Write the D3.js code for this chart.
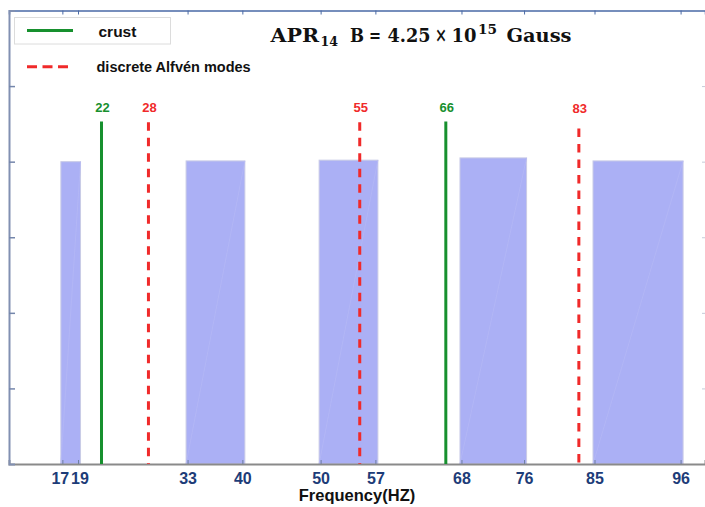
<!DOCTYPE html>
<html>
<head>
<meta charset="utf-8">
<script src="https://cdn.jsdelivr.net/npm/d3@7"></script>
<style>
  html, body { margin: 0; padding: 0; background: #fff; }
  svg { display: block; }
</style>
</head>
<body>
<svg id="chart" width="705" height="507"></svg>
<script>
// ---- data ----
const tickValues = [17, 19, 33, 40, 50, 57, 68, 76, 85, 96];
const bandLow = [17, 33, 50, 68, 85];
const bandHigh = [19, 40, 57, 76, 96];
const bandHeight = [4.0, 4.01, 4.02, 4.05, 4.01];
const crustFreq = [22, 66];
const crustHeight = [4.53, 4.53];
const alfvenFreq = [28, 55, 83];
const alfvenHeight = [4.52, 4.52, 4.44];
const yTicks = [1, 2, 3, 4, 5];

(function () {
const svg = d3.select("#chart");
const pLeft = 9, pRight = 705, pTop = 10.5, pBottom = 464;

const x = d3.scaleLinear().domain([10.18, 99.12]).range([pLeft, pRight]);
const y = d3.scaleLinear().domain([0, 6]).range([pBottom, pTop]);

// bands
const bands = bandLow.map((lo, i) => ({lo, hi: bandHigh[i], h: bandHeight[i]}));
svg.append("g").selectAll("rect").data(bands).join("rect")
  .attr("x", d => x(d.lo) - 1.5)
  .attr("width", d => x(d.hi) - x(d.lo) + 4)
  .attr("y", d => y(d.h))
  .attr("height", d => y(0) - y(d.h))
  .attr("fill", "#abb0f5")
  .attr("stroke", "#c9cbe6")
  .attr("stroke-width", 1);
// faint diagonal artifacts
svg.append("g").selectAll("line").data(bands).join("line")
  .attr("x1", d => x(d.lo) - 1.5).attr("y1", y(0))
  .attr("x2", d => x(d.hi) + 2.5).attr("y2", d => y(d.h))
  .attr("stroke", "#b4b8f5").attr("stroke-width", 0.8);

// axes
const gx = svg.append("g").attr("transform", `translate(0,${pBottom})`)
  .call(d3.axisBottom(x).tickValues(tickValues).tickSize(-4).tickPadding(8.5).tickFormat(d3.format("d")));
gx.select(".domain").attr("stroke", "#8a8a8a").attr("stroke-width", 2);
gx.selectAll(".tick line").attr("stroke", "#6f7f9f");
gx.selectAll("text").attr("fill", "#1d3c78").attr("font-family", "Liberation Sans, Arial, sans-serif")
  .attr("font-weight", "bold").attr("font-size", "16px")
  .attr("dx", d => d === 17 ? -2.6 : d === 19 ? 1.4 : 0);

const gt = svg.append("g").attr("transform", `translate(0,${pTop})`)
  .call(d3.axisTop(x).tickValues(tickValues).tickSize(-4).tickFormat(""));
gt.select(".domain").attr("stroke", "#4a6aa6").attr("stroke-width", 1.5);
gt.selectAll(".tick line").attr("stroke", "#4a6aa6");

const gy = svg.append("g").attr("transform", `translate(${pLeft},0)`)
  .call(d3.axisLeft(y).tickValues(yTicks).tickSize(-6).tickFormat(""));
gy.select(".domain").attr("stroke", "#8190b2").attr("stroke-width", 2);
gy.selectAll(".tick line").attr("stroke", "#7486ab").attr("stroke-width", 1.5);

const gr = svg.append("g").attr("transform", `translate(${pRight},0)`)
  .call(d3.axisRight(y).tickValues(yTicks).tickSize(-3).tickFormat(""));
gr.select(".domain").attr("stroke", "none");
gr.selectAll(".tick line").attr("stroke", "#c5cbd8");

// crust lines
const crust = crustFreq.map((f, i) => ({f, h: crustHeight[i]}));
svg.append("g").selectAll("line").data(crust).join("line")
  .attr("x1", d => x(d.f)).attr("x2", d => x(d.f))
  .attr("y1", y(0)).attr("y2", d => y(d.h))
  .attr("stroke", "#17902e").attr("stroke-width", 3);
svg.append("g").selectAll("text").data(crust).join("text")
  .attr("x", d => x(d.f) + 1).attr("y", 112)
  .attr("text-anchor", "middle")
  .attr("fill", "#17902e").attr("font-family", "Liberation Sans, Arial, sans-serif")
  .attr("font-weight", "bold").attr("font-size", "13px")
  .text(d => d.f);

// alfven lines
const alf = alfvenFreq.map((f, i) => ({f, h: alfvenHeight[i]}));
svg.append("g").selectAll("line").data(alf).join("line")
  .attr("x1", d => x(d.f)).attr("x2", d => x(d.f))
  .attr("y1", d => y(d.h)).attr("y2", y(0))
  .attr("stroke", "#f02a2a").attr("stroke-width", 3)
  .attr("stroke-dasharray", "8.5,7");
svg.append("g").selectAll("text").data(alf).join("text")
  .attr("x", d => x(d.f) + 1).attr("y", d => d.f === 83 ? 113 : 112)
  .attr("text-anchor", "middle")
  .attr("fill", "#f02a2a").attr("font-family", "Liberation Sans, Arial, sans-serif")
  .attr("font-weight", "bold").attr("font-size", "13px")
  .text(d => d.f);

// x label
svg.append("text").attr("x", 357).attr("y", 501).attr("text-anchor", "middle")
  .attr("font-family", "Liberation Sans, Arial, sans-serif").attr("font-weight", "bold")
  .attr("font-size", "16.5px").attr("fill", "#111").text("Frequency(HZ)");

// legend
const lg = svg.append("g");
lg.append("rect").attr("x", 14.5).attr("y", 17.5).attr("width", 156).attr("height", 26.5)
  .attr("fill", "#fff").attr("stroke", "#dcdcdc");
lg.append("line").attr("x1", 27).attr("x2", 73).attr("y1", 30.5).attr("y2", 30.5)
  .attr("stroke", "#17902e").attr("stroke-width", 3);
lg.append("text").attr("x", 98.5).attr("y", 37).attr("font-family", "Liberation Sans, Arial, sans-serif")
  .attr("font-weight", "bold").attr("font-size", "15.5px").attr("fill", "#111").text("crust");
lg.append("line").attr("x1", 27).attr("x2", 68).attr("y1", 66.8).attr("y2", 66.8)
  .attr("stroke", "#f02a2a").attr("stroke-width", 3).attr("stroke-dasharray", "10,5.5");
lg.append("text").attr("x", 96.5).attr("y", 72).attr("font-family", "Liberation Sans, Arial, sans-serif")
  .attr("font-weight", "bold").attr("font-size", "14.5px").attr("fill", "#111").text("discrete Alfvén modes");

// title
const t = svg.append("text").attr("font-family", "DejaVu Serif, serif").attr("font-weight", "bold")
  .attr("fill", "#111").attr("y", 42);
const parts = [
  {s: "APR", x: 270.5, dy: 0, fs: 19, w: 48.5},
  {s: "14", x: 320.5, dy: 4, fs: 13, w: 17.5},
  {s: "B", x: 350, dy: -4, fs: 19, w: 14},
  {s: "=", x: 369, dy: 0, fs: 19, w: 12},
  {s: "4.25", x: 387.5, dy: 0, fs: 19, w: 43},
  {s: "×", x: 435, dy: 0, fs: 21, w: 12},
  {s: "10", x: 451.5, dy: 0, fs: 19, w: 25},
  {s: "15", x: 478, dy: -8, fs: 13, w: 19},
  {s: "Gauss", x: 506.5, dy: 8, fs: 19, w: 65}
];
parts.forEach(p => t.append("tspan").attr("x", p.x).attr("dy", p.dy).attr("font-size", p.fs + "px")
  .attr("textLength", p.w).attr("lengthAdjust", "spacingAndGlyphs").text(p.s));
})();
</script>
</body>
</html>
